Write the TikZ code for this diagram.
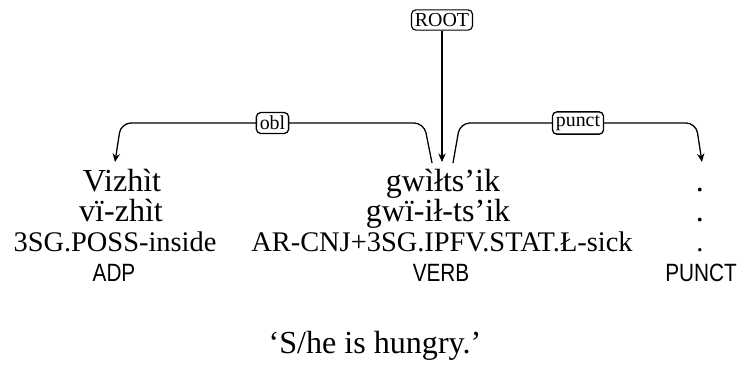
\documentclass[tikz,border=0pt]{standalone}
\usepackage{fontspec}
\setmainfont{Liberation Serif}
\newfontfamily\tagfont{Liberation Sans}[FakeStretch=0.83]
\usetikzlibrary{arrows.meta}
\begin{document}
\begin{tikzpicture}[x=0.352pt,y=-0.352pt,
  lbl/.style={draw,rounded corners=1.5pt,inner sep=1.2pt,fill=white,font=\fontsize{7}{8}\selectfont},
  deparc/.style={line width=0.45pt,rounded corners=3.5pt,-{Stealth[length=3pt,width=2.6pt]}},
  word/.style={anchor=base,inner sep=0pt,font=\fontsize{11.3}{13}\selectfont},
  gloss/.style={anchor=base,inner sep=0pt,font=\fontsize{10}{12}\selectfont},
  tagw/.style={anchor=base,inner sep=0pt,font=\tagfont\fontsize{8.8}{10}\selectfont}]
\useasboundingbox (0,0) rectangle (739,372);
% words
\node[word] (a1) at (122,191) {Vizhìt};
\node[word] (a2) at (121,221) {vï-zhìt};
\node[gloss] (a3) at (115,251) {3SG.POSS-inside};
\node[tagw] (a4) at (114,281) {ADP};
\node[word] (b1) at (443,191) {gwìłts'ik};
\node[word] (b2) at (438,221) {gwï-ił-ts'ik};
\node[gloss] (b3) at (442,251) {AR-CNJ+3SG.IPFV.STAT.Ł-sick};
\node[tagw] (b4) at (441,281) {VERB};
\node[word] (c1) at (700,191) {.};
\node[word] (c2) at (700,221) {.};
\node[gloss] (c3) at (700,251) {.};
\node[tagw] (c4) at (701,281) {PUNCT};
\node[word] (tr) at (375,353) {`S/he is hungry.'};
% root
\node[lbl] (root) at (442,20) {ROOT};
\coordinate (rootE) at (442,162);
\draw[deparc] (root) -- (rootE);
% obl
\coordinate (oblS) at (432,163);
\coordinate (oblC1) at (424,123);
\coordinate (oblC2) at (121,123);
\coordinate (oblE) at (115,162);
\draw[deparc] (oblS) -- (oblC1) -- node[lbl] (obl) {obl} (oblC2) -- (oblE);
% punct
\coordinate (puS) at (453,163);
\coordinate (puC1) at (460,123);
\coordinate (puC2) at (696,123);
\coordinate (puE) at (702,162);
\draw[deparc] (puS) -- (puC1) -- node[lbl] (pu) {punct} (puC2) -- (puE);
\end{tikzpicture}
\end{document}
